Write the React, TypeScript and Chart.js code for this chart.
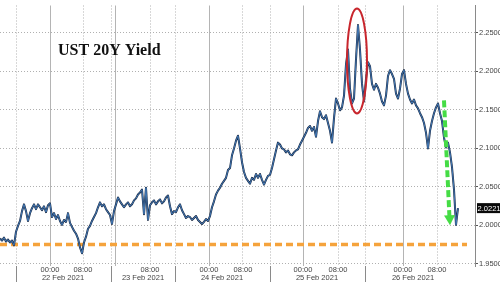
import React, { useEffect, useRef } from 'react';
import { Chart, registerables } from 'chart.js';

Chart.register(...registerables);

// ---- data (time slots are evenly spaced; STEP slots between samples) ----
const STEP = 2;
const SESSION_21 = [1.9826, 1.98, 1.9838, 1.9788, 1.9813, 1.9775, 1.98, 1.9737];
const SESSION_22 = [
  1.9915, 1.9991, 2.0054, 2.0182, 2.027, 2.0182, 2.0054, 2.0156, 2.022, 2.027,
  2.0207, 2.027, 2.0232, 2.0194, 2.0245, 2.0169, 2.0258, 2.0283, 2.0105, 2.0156,
  2.008, 2.0131, 2.0054, 2.0004, 2.0067, 2.0042, 2.0156, 2.0029, 1.9978, 1.9927,
  1.9889, 1.9826, 1.9711, 1.9635, 1.9775, 1.9851, 1.9953, 1.9991, 2.0054, 2.0105,
  2.0156, 2.0232, 2.0296, 2.0245, 2.027, 2.0207, 2.0169, 2.0131,
];
const SESSION_23 = [
  2.0016, 2.0182, 2.027, 2.0359, 2.0309, 2.027, 2.0232, 2.027, 2.0296, 2.0245,
  2.027, 2.0321, 2.0347, 2.0398, 2.0423, 2.0461, 2.0143, 2.0486, 2.0067, 2.0258,
  2.0296, 2.0321, 2.027, 2.0309, 2.0334, 2.0283, 2.0309, 2.0359, 2.0385, 2.0245,
  2.0143, 2.0182,
];
const SESSION_24 = [
  2.0169, 2.0232, 2.027, 2.0194, 2.0143, 2.0093, 2.0118, 2.0105, 2.0067, 2.0093,
  2.0118, 2.0067, 2.0042, 2.0016, 2.0042, 2.008, 2.0054, 2.0118, 2.0232, 2.0309,
  2.0398, 2.0448, 2.0486, 2.0537, 2.0575, 2.0614, 2.0715, 2.0741, 2.0906, 2.0995,
  2.1096, 2.116, 2.0995, 2.0817, 2.069, 2.0614, 2.0575, 2.0537, 2.0614, 2.0588,
  2.0664, 2.0614, 2.0664, 2.0588, 2.0525, 2.0588, 2.0639,
];
const SESSION_25 = [
  2.0652, 2.0741, 2.0855, 2.0969, 2.1071, 2.1046, 2.0995, 2.0982, 2.0944, 2.0969,
  2.0919, 2.0906, 2.0944, 2.0969, 2.0982, 2.1046, 2.1096, 2.1147, 2.1198, 2.1262,
  2.1287, 2.1224, 2.1274, 2.1147, 2.1351, 2.1478, 2.1401, 2.1376, 2.1427, 2.1325,
  2.1224, 2.1071, 2.1389, 2.1643, 2.1579, 2.149, 2.1528, 2.1681, 2.2088, 2.2278,
  2.177, 2.1579, 2.1643, 2.2151, 2.2596, 2.2278, 2.1833, 2.1605,
];
const SESSION_26 = [
  2.1897, 2.2113, 2.2062, 2.1833, 2.1757, 2.1833, 2.1783, 2.1706, 2.1605, 2.1554,
  2.1681, 2.1935, 2.2011, 2.1961, 2.1897, 2.1706, 2.1643, 2.177, 2.1961, 2.2011,
  2.1833, 2.1706, 2.163, 2.1579, 2.163, 2.1554, 2.1516, 2.1452, 2.1401, 2.1325,
  2.1198, 2.0995, 2.1224, 2.1351, 2.1452, 2.1528, 2.1579, 2.1452, 2.1351, 2.1135,
  2.1007, 2.1071, 2.0944, 2.0753, 2.0461, 2.0004, 2.0221,
];
const YIELD = [...SESSION_21, ...SESSION_22, ...SESSION_23, ...SESSION_24, ...SESSION_25, ...SESSION_26];

const X_MAX = 475;
const Y_MIN = 1.947;
const Y_MAX = 2.285;
const Y_TICKS = [1.95, 2.0, 2.05, 2.1, 2.15, 2.2, 2.25];

const X_TICKS: { pos: number; label: string | string[]; kind: string }[] = [
  { pos: 16, label: '', kind: 'dot' },
  { pos: 50, label: '00:00', kind: 'solid' },
  { pos: 63, label: ['', '22 Feb 2021'], kind: 'none' },
  { pos: 83, label: '08:00', kind: 'dot' },
  { pos: 111, label: '', kind: 'dot' },
  { pos: 115, label: '', kind: 'solid' },
  { pos: 143, label: ['', '23 Feb 2021'], kind: 'none' },
  { pos: 150, label: '08:00', kind: 'dot' },
  { pos: 175, label: '', kind: 'dot' },
  { pos: 209, label: '00:00', kind: 'solid' },
  { pos: 222, label: ['', '24 Feb 2021'], kind: 'none' },
  { pos: 243, label: '08:00', kind: 'dot' },
  { pos: 270, label: '', kind: 'dot' },
  { pos: 303, label: '00:00', kind: 'solid' },
  { pos: 317, label: ['', '25 Feb 2021'], kind: 'none' },
  { pos: 338, label: '08:00', kind: 'dot' },
  { pos: 365, label: '', kind: 'dot' },
  { pos: 403, label: '00:00', kind: 'solid' },
  { pos: 413, label: ['', '26 Feb 2021'], kind: 'none' },
  { pos: 437, label: '08:00', kind: 'dot' },
];
const SEPARATORS = [16, 111, 175, 270, 365];

const SUPPORT_LEVEL = 1.975;
const SUPPORT_END = 467;
const ARROW = [
  { x: 444, y: 2.162 },
  { x: 449.5, y: 2.009 },
];
const ARROW_TIP = { x: 450, y: 2.0 };
const PEAK_RING = { x: 357, halfWidth: 10, top: 2.281, bottom: 2.145 };
const TITLE = 'UST 20Y Yield';
const LAST_LABEL = '2.0221';

const overlay = {
  id: 'overlay',
  afterDatasetsDraw(chart: any) {
    const { ctx, scales } = chart;
    const x = scales.x;
    const y = scales.y;
    ctx.save();
    // red ring around the peak
    const cx = x.getPixelForValue(PEAK_RING.x);
    const rx = x.getPixelForValue(PEAK_RING.x + PEAK_RING.halfWidth) - cx;
    const yt = y.getPixelForValue(PEAK_RING.top);
    const yb = y.getPixelForValue(PEAK_RING.bottom);
    ctx.beginPath();
    ctx.ellipse(cx, (yt + yb) / 2, rx, (yb - yt) / 2, 0, 0, Math.PI * 2);
    ctx.strokeStyle = '#c8262d';
    ctx.lineWidth = 2;
    ctx.stroke();
    // green arrow head
    const sx = x.getPixelForValue(ARROW[0].x);
    const sy = y.getPixelForValue(ARROW[0].y);
    const tx = x.getPixelForValue(ARROW_TIP.x);
    const ty = y.getPixelForValue(ARROW_TIP.y);
    const ang = Math.atan2(ty - sy, tx - sx);
    const len = 10;
    const half = 5.5;
    const bx = tx - Math.cos(ang) * len;
    const by = ty - Math.sin(ang) * len;
    ctx.beginPath();
    ctx.moveTo(tx, ty);
    ctx.lineTo(bx + Math.sin(ang) * half, by - Math.cos(ang) * half);
    ctx.lineTo(bx - Math.sin(ang) * half, by + Math.cos(ang) * half);
    ctx.closePath();
    ctx.fillStyle = '#45dc45';
    ctx.fill();
    ctx.restore();
  },
  afterDraw(chart: any) {
    const { ctx, chartArea, scales } = chart;
    const x = scales.x;
    const y = scales.y;
    ctx.save();
    // day separators extending below the axis
    ctx.strokeStyle = '#8a8a8a';
    ctx.lineWidth = 1;
    SEPARATORS.forEach((s) => {
      const px = Math.round(x.getPixelForValue(s)) + 0.5;
      ctx.beginPath();
      ctx.moveTo(px, chartArea.bottom);
      ctx.lineTo(px, chart.height);
      ctx.stroke();
    });
    // title
    ctx.fillStyle = '#111';
    ctx.font = 'bold 16px "Liberation Serif", "Times New Roman", serif';
    ctx.textBaseline = 'middle';
    ctx.textAlign = 'left';
    ctx.fillText(TITLE, 58, 51);
    // last value box
    const lastY = y.getPixelForValue(YIELD[YIELD.length - 1]);
    const bx = chartArea.right + 2;
    ctx.fillStyle = '#0a0a0a';
    ctx.fillRect(bx, lastY - 5, chart.width - bx, 10);
    ctx.fillStyle = '#ffffff';
    ctx.font = '7.5px "Liberation Sans", Arial, sans-serif';
    ctx.textAlign = 'center';
    ctx.fillText(LAST_LABEL, (bx + chart.width) / 2 + 0.5, lastY + 0.5);
    ctx.restore();
  },
};

export default function App() {
  const ref = useRef<HTMLCanvasElement | null>(null);
  useEffect(() => {
    document.body.style.margin = '0';
    if (!ref.current) return;
    const points = YIELD.map((v, i) => ({ x: i * STEP, y: v }));
    const chart = new Chart(ref.current, {
      type: 'line',
      data: {
        datasets: [
          {
            data: ARROW,
            borderColor: '#45dc45',
            borderWidth: 4,
            borderDash: [7, 3],
            pointRadius: 0,
            order: 0,
          },
          {
            data: points,
            borderColor: '#4c8ccf',
            borderWidth: 0.8,
            pointRadius: 0,
            tension: 0,
            order: 1,
          },
          {
            data: points,
            borderColor: '#1a2a45',
            borderWidth: 2,
            pointRadius: 0,
            tension: 0,
            order: 2,
          },
          {
            data: [
              { x: 0, y: SUPPORT_LEVEL },
              { x: SUPPORT_END, y: SUPPORT_LEVEL },
            ],
            borderColor: '#f5a33c',
            borderWidth: 3.5,
            borderDash: [7, 4],
            pointRadius: 0,
            order: 3,
          },
        ],
      },
      options: {
        animation: false,
        responsive: false,
        maintainAspectRatio: false,
        layout: { padding: 0 },
        plugins: { legend: { display: false }, tooltip: { enabled: false } },
        elements: { line: { borderCapStyle: 'butt', borderJoinStyle: 'round' } },
        scales: {
          x: {
            type: 'linear',
            min: 0,
            max: X_MAX,
            position: 'bottom',
            afterBuildTicks: (s: any) => {
              s.ticks = X_TICKS.map((t) => ({ value: t.pos }));
            },
            afterFit: (s: any) => {
              s.height = 16;
            },
            ticks: {
              autoSkip: false,
              maxRotation: 0,
              minRotation: 0,
              padding: 0,
              color: '#444',
              font: { size: 7.5, family: '"Liberation Sans", Arial, sans-serif', lineHeight: 1.1 },
              callback: (_v: any, i: number) => X_TICKS[i].label,
            },
            grid: {
              drawTicks: false,
              lineWidth: 1,
              color: (c: any) => {
                const t = X_TICKS[c.index];
                if (!t || t.kind === 'none') return 'rgba(0,0,0,0)';
                return t.kind === 'solid' ? '#b4b4b4' : '#b0b0b0';
              },
            },
            border: {
              display: false,
              dash: (c: any) => {
                const t = X_TICKS[c.index];
                return t && t.kind === 'solid' ? [] : [1, 2];
              },
            },
          },
          y: {
            type: 'linear',
            position: 'right',
            min: Y_MIN,
            max: Y_MAX,
            afterBuildTicks: (s: any) => {
              s.ticks = Y_TICKS.map((v) => ({ value: v }));
            },
            afterFit: (s: any) => {
              s.width = 25;
            },
            ticks: {
              padding: 1,
              color: '#444',
              font: { size: 7.5, family: '"Liberation Sans", Arial, sans-serif' },
              callback: (v: any) => Number(v).toFixed(4),
            },
            grid: {
              color: '#b0b0b0',
              lineWidth: 1,
              tickLength: 3,
              tickColor: '#555',
              tickBorderDash: [],
            },
            border: { display: true, color: '#8a8a8a', width: 1, dash: [1, 2] },
          },
        },
      },
      plugins: [overlay],
    } as any);
    return () => chart.destroy();
  }, []);
  return (
    <div style={{ position: 'fixed', left: 0, top: 0, width: 500, height: 282 }}>
      <canvas ref={ref} width={500} height={282} style={{ display: 'block' }} />
    </div>
  );
}
